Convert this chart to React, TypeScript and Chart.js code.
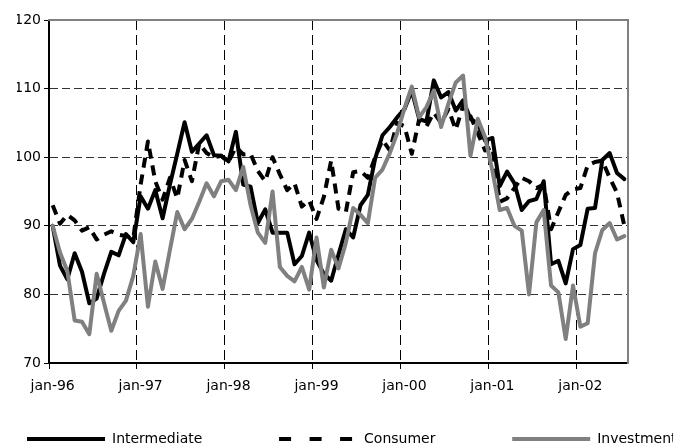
import React, { useEffect, useRef } from 'react';
import { Chart, registerables } from 'chart.js';

Chart.register(...registerables);

const monthNames = ['jan', 'feb', 'mar', 'apr', 'may', 'jun', 'jul', 'aug', 'sep', 'oct', 'nov', 'dec'];
const yearLabels = ['96', '97', '98', '99', '00', '01', '02'];
const categories: string[] = [];
yearLabels.forEach((y) => monthNames.forEach((m) => categories.push(`${m}-${y}`)));
categories.length = 79; // jan-96 .. jul-02

const intermediate = [
  90, 84.2, 82.2, 86, 83.3, 78.7, 79.4, 83, 86.2, 85.7,
  88.8, 87.6, 94.3, 92.5, 95.2, 91.1, 96, 100.5, 105.1, 100.8,
  102, 103.2, 100.3, 100.2, 99.4, 103.7, 96, 95.7, 90.4, 92.4,
  89, 89, 89, 84.4, 85.6, 89, 85, 83, 82, 85.8,
  89.5, 88.3, 93, 94.5, 99.8, 103.2, 104.4, 105.8, 107, 109.7,
  105.6, 105.2, 111.2, 108.7, 109.5, 106.8, 108.3, 105.6, 104.9, 102.4,
  102.8, 95.8, 97.9, 96.2, 92.3, 93.6, 93.9, 96.5, 84.4, 84.9,
  81.6, 86.6, 87.2, 92.5, 92.6, 99.6, 100.6, 97.7, 96.8,
];

const consumer = [
  93, 90.3, 91.6, 90.8, 89.3, 89.8, 88, 88.7, 89.2, 88.7,
  88.5, 88.2, 96, 102.3, 96.5, 93.8, 97, 94, 99.6, 96.5,
  102, 100.6, 100, 100.2, 99.3, 101.5, 100.4, 100.5, 98, 96.5,
  100, 97.5, 95.2, 96.2, 92.8, 93.7, 91, 94.2, 99.5, 92.5,
  92, 97.8, 98, 97, 100, 102.5, 101, 105, 104.5, 100.5,
  105.5, 104.5, 106.5, 105, 107, 104, 107.5, 106, 103.5, 101,
  101.5, 93.5, 94, 95.5, 97, 96.5, 95.5, 96, 89.5, 92,
  94.5, 95.3, 95.5, 98.8, 99.3, 99.5, 97, 94.8, 90,
];

const investment = [
  90, 86.1, 83.4, 76.2, 76, 74.2, 83, 78.8, 74.7, 77.6,
  79.1, 82.7, 88.8, 78.2, 84.8, 80.8, 86.5, 92, 89.5, 91,
  93.5, 96.2, 94.3, 96.5, 96.7, 95.2, 98.6, 93, 89, 87.5,
  95, 84, 82.7, 81.9, 84, 80.7, 88.3, 81, 86.5, 83.8,
  87.5, 92.6, 91.6, 90.4, 97, 98.2, 100.6, 103.5, 107.1, 110.3,
  105.8, 107.3, 109.7, 104.4, 107.8, 110.9, 111.9, 100.2, 105.6, 102.9,
  98, 92.3, 92.6, 90, 89.3, 80, 90.5, 92.3, 81.3, 80.3,
  73.5, 81.3, 75.3, 75.8, 86, 89.4, 90.4, 88, 88.5,
];

const seriesNames = ['Intermediate', 'Consumer', 'Investment'];
const yTicks = { min: 70, max: 120, step: 10 };

const FONT = 'DejaVu Sans';
const CLEAR = 'rgba(0,0,0,0)';
const LEGEND_GAP = ' '.repeat(15);

export default function App() {
  const ref = useRef<HTMLCanvasElement | null>(null);

  useEffect(() => {
    if (!ref.current) return;
    const chart = new Chart(ref.current, {
      type: 'line',
      data: {
        labels: categories,
        datasets: [
          {
            label: seriesNames[0],
            data: intermediate,
            borderColor: '#000000',
            backgroundColor: '#000000',
            borderWidth: 4,
            pointRadius: 0,
            tension: 0,
            fill: false,
            borderJoinStyle: 'round',
            borderCapStyle: 'round',
            order: 1,
            xAxisID: 'x',
            yAxisID: 'y',
          },
          {
            label: seriesNames[1],
            data: consumer,
            borderColor: '#000000',
            backgroundColor: '#000000',
            borderWidth: 4,
            borderDash: [10, 7],
            pointRadius: 0,
            tension: 0,
            fill: false,
            borderJoinStyle: 'round',
            borderCapStyle: 'butt',
            order: 2,
            xAxisID: 'x',
            yAxisID: 'y',
          },
          {
            label: seriesNames[2],
            data: investment,
            borderColor: '#808080',
            backgroundColor: '#808080',
            borderWidth: 4,
            pointRadius: 0,
            tension: 0,
            fill: false,
            borderJoinStyle: 'round',
            borderCapStyle: 'round',
            order: 0,
            xAxisID: 'x',
            yAxisID: 'y',
          },
        ],
      },
      options: {
        animation: false,
        responsive: true,
        maintainAspectRatio: false,
        events: [],
        layout: { padding: { left: 17, right: 0, top: 0, bottom: 4 } },
        plugins: {
          tooltip: { enabled: false },
          legend: {
            position: 'bottom',
            align: 'start',
            labels: {
              usePointStyle: true,
              pointStyle: 'line',
              pointStyleWidth: 78,
              boxHeight: 14,
              padding: 10,
              color: '#000000',
              font: { family: FONT, size: 14 },
              sort: (a: any, b: any) => a.datasetIndex - b.datasetIndex,
              generateLabels: (c: any) => {
                const items = (Chart as any).defaults.plugins.legend.labels.generateLabels(c);
                return items.map((it: any) => ({
                  ...it,
                  text: it.datasetIndex < 2 ? it.text + LEGEND_GAP : it.text,
                  lineDash: it.datasetIndex === 1 ? [12, 18.5] : it.lineDash,
                }));
              },
            },
          },
        },
        scales: {
          x: {
            type: 'category',
            position: 'bottom',
            offset: true,
            ticks: {
              autoSkip: false,
              maxRotation: 0,
              minRotation: 0,
              padding: 9,
              color: '#000000',
              font: { family: FONT, size: 14 },
              callback: (_v: any, i: number) => (i % 12 === 0 ? categories[i] : ''),
            },
            grid: {
              offset: true,
              lineWidth: 1,
              tickWidth: 1,
              tickLength: 6,
              tickBorderDash: [],
              color: (c: any) =>
                c.index !== undefined && c.index > 0 && c.index % 12 === 0 ? '#000000' : CLEAR,
              tickColor: (c: any) =>
                c.index !== undefined && c.index % 12 === 0 ? '#000000' : CLEAR,
            },
            border: { display: true, color: '#000000', width: 2, dash: [10, 5] },
            afterFit: (s: any) => {
              s.height = 59;
            },
          },
          y: {
            type: 'linear',
            position: 'left',
            min: yTicks.min,
            max: yTicks.max,
            ticks: {
              stepSize: yTicks.step,
              padding: 3,
              color: '#000000',
              font: { family: FONT, size: 14 },
            },
            grid: {
              lineWidth: 1,
              tickWidth: 1,
              tickLength: 5,
              tickBorderDash: [],
              tickColor: '#000000',
              color: (c: any) =>
                c.tick && (c.tick.value === yTicks.min || c.tick.value === yTicks.max) ? CLEAR : '#333333',
            },
            border: { display: true, color: '#000000', width: 2, dash: [8, 4] },
            afterFit: (s: any) => {
              s.width = 32;
            },
          },
          x3: {
            type: 'linear',
            position: 'top',
            display: true,
            ticks: { display: false },
            grid: { display: false, drawTicks: false },
            border: { display: true, color: '#808080', width: 2 },
            afterFit: (s: any) => {
              s.height = 20;
            },
          },
          y2: {
            type: 'linear',
            position: 'right',
            display: true,
            ticks: { display: false },
            grid: { display: false, drawTicks: false },
            border: { display: true, color: '#808080', width: 2 },
            afterFit: (s: any) => {
              s.width = 92;
            },
          },
        },
      } as any,
    });
    return () => chart.destroy();
  }, []);

  return (
    <div
      style={{
        position: 'absolute',
        left: 0,
        top: 0,
        width: 673,
        height: 446,
        overflow: 'hidden',
        background: '#ffffff',
      }}
    >
      <div style={{ position: 'relative', width: 720, height: 460 }}>
        <canvas ref={ref} />
      </div>
    </div>
  );
}
